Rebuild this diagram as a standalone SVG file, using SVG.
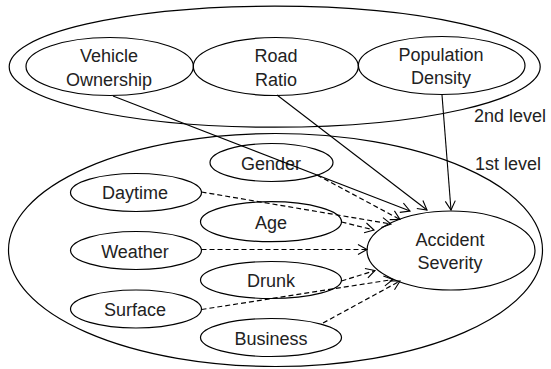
<svg xmlns="http://www.w3.org/2000/svg" width="551" height="369" viewBox="0 0 551 369">
<defs>
<style>
.n{fill:none;stroke:#000;stroke-width:1.2}
.g{fill:none;stroke:#000;stroke-width:1.2}
text{font-family:"Liberation Sans",Arial,sans-serif;font-size:18px;fill:#222;text-anchor:middle}
.lvl{text-anchor:start}
.s{fill:none;stroke:#000;stroke-width:1.1;marker-end:url(#ah)}
.d{fill:none;stroke:#000;stroke-width:1.2;stroke-dasharray:5 3;marker-end:url(#ah)}
</style>
<marker id="ah" viewBox="-10 -6 12 12" refX="0" refY="0" markerWidth="12" markerHeight="12" markerUnits="userSpaceOnUse" orient="auto">
<path d="M-9,-5 L0,0 L-9,5" fill="none" stroke="#000" stroke-width="1.1"/>
</marker>
</defs>
<rect width="551" height="369" fill="#fff"/>
<g id="level2">
<ellipse class="g" cx="274.7" cy="66.7" rx="265.5" ry="60.5"/>
<text class="lvl" x="474" y="121.5">2nd level</text>
</g>
<g id="level1">
<ellipse class="g" cx="275.5" cy="250" rx="267" ry="116.5"/>
<text class="lvl" x="475" y="169.5">1st level</text>
</g>
<g id="vehicle">
<ellipse class="n" cx="109.7" cy="66.5" rx="83.7" ry="29"/>
<text x="109" y="61.5">Vehicle</text>
<text x="109" y="85.5">Ownership</text>
</g>
<g id="road">
<ellipse class="n" cx="275.8" cy="66.5" rx="82.5" ry="29"/>
<text x="276" y="61.5">Road</text>
<text x="276" y="85.5">Ratio</text>
</g>
<g id="population">
<ellipse class="n" cx="441.7" cy="65.5" rx="83.3" ry="29"/>
<text x="441" y="60.5">Population</text>
<text x="441" y="84">Density</text>
</g>
<g id="gender">
<ellipse class="n" cx="271.5" cy="162.5" rx="61.5" ry="19"/>
<text x="271" y="169.5">Gender</text>
</g>
<g id="daytime">
<ellipse class="n" cx="136" cy="192.5" rx="65.5" ry="19"/>
<text x="135" y="199">Daytime</text>
</g>
<g id="age">
<ellipse class="n" cx="271" cy="221.7" rx="70.5" ry="20"/>
<text x="271" y="228.5">Age</text>
</g>
<g id="weather">
<ellipse class="n" cx="136" cy="250.5" rx="65.5" ry="19"/>
<text x="135" y="257.5">Weather</text>
</g>
<g id="drunk">
<ellipse class="n" cx="271" cy="280" rx="70.5" ry="18.5"/>
<text x="271" y="286.5">Drunk</text>
</g>
<g id="surface">
<ellipse class="n" cx="136" cy="309" rx="65.5" ry="19"/>
<text x="135" y="316">Surface</text>
</g>
<g id="business">
<ellipse class="n" cx="271" cy="337.5" rx="70.5" ry="19"/>
<text x="271" y="344.5">Business</text>
</g>
<g id="accident">
<ellipse class="n" cx="451" cy="250.5" rx="84" ry="39.5"/>
<text x="450" y="245.5">Accident</text>
<text x="450" y="268.5">Severity</text>
</g>
<g id="connectors">
<line class="s" x1="113" y1="96" x2="410" y2="211"/>
<line class="s" x1="277" y1="95" x2="427" y2="210"/>
<line class="s" x1="442" y1="95" x2="451" y2="210"/>
<line class="d" x1="317" y1="175" x2="400" y2="219.5"/>
<line class="d" x1="201.5" y1="192" x2="391" y2="224"/>
<line class="d" x1="341.5" y1="222" x2="374" y2="230"/>
<line class="d" x1="201.5" y1="249.5" x2="367" y2="249.5"/>
<line class="d" x1="341.5" y1="281" x2="375" y2="270.5"/>
<line class="d" x1="201.5" y1="309.5" x2="393" y2="279.5"/>
<line class="d" x1="323" y1="323" x2="400" y2="281"/>
</g>
</svg>
